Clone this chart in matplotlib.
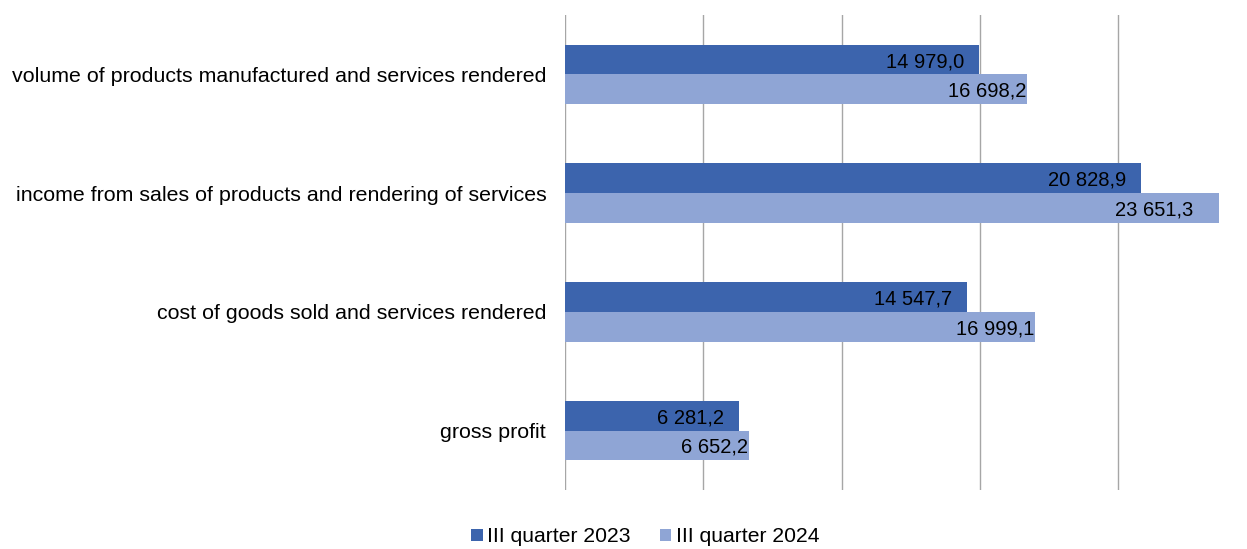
import numpy as np
import matplotlib.pyplot as plt

categories = ["volume of products manufactured and services rendered",
              "income from sales of products and rendering of services",
              "cost of goods sold and services rendered",
              "gross profit"]
q2023 = [14979.0, 20828.9, 14547.7, 6281.2]
q2024 = [16698.2, 23651.3, 16999.1, 6652.2]
labels2023 = ["14 979,0", "20 828,9", "14 547,7", "6 281,2"]
labels2024 = ["16 698,2", "23 651,3", "16 999,1", "6 652,2"]
series = ["III quarter 2023", "III quarter 2024"]

c1 = "#3C64AD"
c2 = "#8FA5D5"
txt_font = ["Liberation Sans", "DejaVu Sans"]

fig = plt.figure(figsize=(12.47, 5.49), dpi=100)
ax = fig.add_axes([565 / 1247, 1 - 490 / 549, 1 - 565 / 1247, (490 - 15) / 549])

y = np.arange(len(categories))
h = 0.25
b1 = ax.barh(y - h / 2, q2023, height=h, color=c1, label=series[0], zorder=2)
b2 = ax.barh(y + h / 2, q2024, height=h, color=c2, label=series[1], zorder=2)

# labels sit at the inside end, but are kept inside the plot area
right_lim = 22700
for bars, texts, off in [(b1, labels2023, 550), (b2, labels2024, 20)]:
    for bar, txt in zip(bars, texts):
        xe = min(bar.get_width() - off, right_lim)
        ax.text(xe, bar.get_y() + bar.get_height() / 2 + 0.017, txt,
                ha="right", va="center", fontsize=14.5, family=txt_font, zorder=3)

ax.set_xlim(0, 24650)
ax.set_ylim(len(categories) - 0.5, -0.5)
ax.set_xticks([0, 5000, 10000, 15000, 20000])
ax.set_xticklabels([])
ax.tick_params(axis="x", length=0)
ax.grid(axis="x", color="#A6A6A6", linewidth=1, zorder=0)
ax.set_yticks(y)
ax.set_yticklabels(categories, fontsize=15.4, family=txt_font)
ax.tick_params(axis="y", length=0, pad=13.5)
for s in ax.spines.values():
    s.set_visible(False)

leg = fig.legend(handles=[b1, b2], labels=series, loc="center", bbox_to_anchor=(645 / 1247, 1 - 537 / 549),
                 ncol=2, frameon=False, handlelength=0.55, handleheight=0.55, handletextpad=0.2,
                 columnspacing=1.4, borderpad=0.1, prop={"family": txt_font, "size": 15.2})

fig.savefig("out.png", dpi=100)
